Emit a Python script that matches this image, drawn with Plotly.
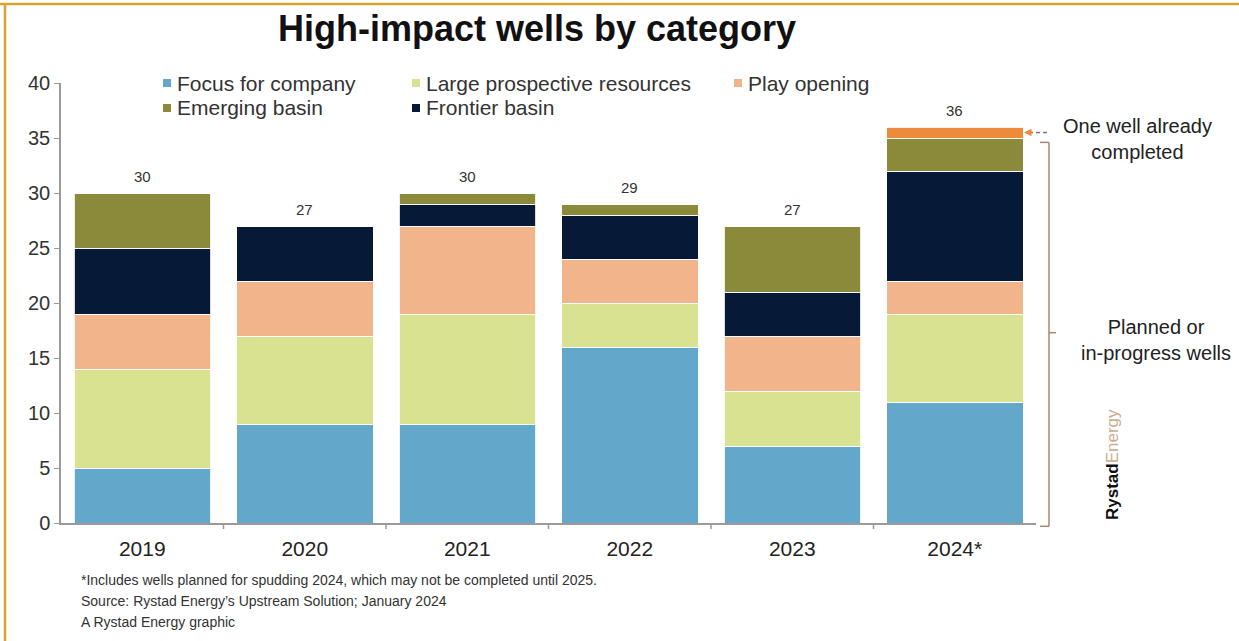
import plotly.graph_objects as go

# Stacked counts of high-impact wells per year and category
years = ["2019", "2020", "2021", "2022", "2023", "2024*"]
focus_for_company = [5, 9, 9, 16, 7, 11]
large_prospective = [9, 8, 10, 4, 5, 8]
play_opening = [5, 5, 8, 4, 5, 3]
frontier_basin = [6, 5, 2, 4, 4, 10]
emerging_basin = [5, 0, 1, 1, 6, 3]
already_completed = [0, 0, 0, 0, 0, 1]
totals = [30, 27, 30, 29, 27, 36]

series = [
    ("Focus for company", focus_for_company, "#63a7cb"),
    ("Large prospective resources", large_prospective, "#d9e290"),
    ("Play opening", play_opening, "#f1b48b"),
    ("Frontier basin", frontier_basin, "#061a38"),
    ("Emerging basin", emerging_basin, "#8b8a3b"),
]
legend_order = ["Focus for company", "Large prospective resources", "Play opening",
                "Emerging basin", "Frontier basin"]
colors = {name: c for name, _, c in series}

footnotes = [
    "*Includes wells planned for spudding 2024, which may not be completed until 2025.",
    "Source: Rystad Energy\u2019s Upstream Solution; January 2024",
    "A Rystad Energy graphic",
]

FONT = "Liberation Sans, Arial, sans-serif"
W, H = 1239, 641
L, R, T, B = 61, 203, 83, 118
PW, PH = W - L - R, H - T - B

xpos = list(range(len(years)))


def px_x(px):
    return (px - L) / PW


def px_y(py):
    return (H - B - py) / PH


fig = go.Figure()
for name, vals, col in series:
    fig.add_trace(go.Bar(
        x=xpos, y=vals, name=name, marker_color=col, width=0.84,
        marker_line=dict(color="rgba(255,255,255,0.85)", width=1),
        showlegend=False,
    ))
fig.add_trace(go.Bar(
    x=xpos, y=already_completed, name="Already completed", marker_color="#ee8a3c",
    width=0.84, marker_line=dict(color="rgba(255,255,255,0.85)", width=1),
    showlegend=False,
))

annotations = []
# totals above each bar
for xp, tot in zip(xpos, totals):
    annotations.append(dict(
        x=xp, y=tot, xref="x", yref="y", text=str(tot), showarrow=False,
        xanchor="center", yanchor="bottom", yshift=6,
        font=dict(family=FONT, size=15, color="#333"),
    ))

# hand-built legend, two rows
legend_cols = [163, 412, 734]
legend_rows = [83, 108]
shapes = []
for i, name in enumerate(legend_order):
    cx = legend_cols[i % 3]
    cy = legend_rows[i // 3]
    shapes.append(dict(
        type="rect", xref="paper", yref="paper",
        x0=px_x(cx), x1=px_x(cx + 8), y0=px_y(cy + 4), y1=px_y(cy - 4),
        fillcolor=colors[name], line=dict(width=0),
    ))
    annotations.append(dict(
        x=px_x(cx + 12), y=px_y(cy), xref="paper", yref="paper", text=name,
        showarrow=False, xanchor="left", yanchor="middle",
        font=dict(family=FONT, size=21, color="#333"),
    ))

# bracket for planned / in-progress wells
bcol = "#a9876c"
bx = px_x(1049)
shapes += [
    dict(type="line", xref="paper", yref="paper", x0=px_x(1040), x1=bx,
         y0=34.6 / 40, y1=34.6 / 40, line=dict(color=bcol, width=1.5)),
    dict(type="line", xref="paper", yref="paper", x0=bx, x1=bx,
         y0=34.6 / 40, y1=-0.3 / 40, line=dict(color=bcol, width=1.5)),
    dict(type="line", xref="paper", yref="paper", x0=px_x(1040), x1=bx,
         y0=-0.3 / 40, y1=-0.3 / 40, line=dict(color=bcol, width=1.5)),
    dict(type="line", xref="paper", yref="paper", x0=bx, x1=px_x(1056),
         y0=17.3 / 40, y1=17.3 / 40, line=dict(color=bcol, width=1.5)),
    # dashed pointer to the completed well
    dict(type="line", xref="paper", yref="paper", x0=px_x(1029), x1=px_x(1048),
         y0=35.5 / 40, y1=35.5 / 40,
         line=dict(color="#777", width=1.5, dash="4px,3px")),
    # frame lines
    dict(type="line", xref="paper", yref="paper", x0=px_x(0), x1=px_x(W),
         y0=px_y(4), y1=px_y(4), line=dict(color="#d4a72c", width=2.5)),
    dict(type="line", xref="paper", yref="paper", x0=px_x(5), x1=px_x(5),
         y0=px_y(4), y1=px_y(H), line=dict(color="#d4a72c", width=2.5)),
]
annotations.append(dict(
    x=px_x(1024), y=35.5 / 40, xref="paper", yref="paper", ax=8, ay=0,
    text="", showarrow=True, arrowhead=2, arrowsize=1, arrowwidth=1.5,
    arrowcolor="#ee8a3c",
))

annotations += [
    dict(x=px_x(1137), y=px_y(139), xref="paper", yref="paper",
         text="One well already<br>completed", showarrow=False, align="center",
         xanchor="center", yanchor="middle",
         font=dict(family=FONT, size=20, color="#222")),
    dict(x=px_x(1156), y=px_y(340), xref="paper", yref="paper",
         text="Planned or<br>in-progress wells", showarrow=False, align="center",
         xanchor="center", yanchor="middle",
         font=dict(family=FONT, size=20, color="#222")),
    dict(x=px_x(1112), y=px_y(465), xref="paper", yref="paper",
         text="<b>Rystad</b><span style='color:#c8ae8e'>Energy</span>",
         showarrow=False, textangle=-90, xanchor="center", yanchor="middle",
         font=dict(family=FONT, size=17, color="#111")),
]
for k, line in enumerate(footnotes):
    annotations.append(dict(
        x=px_x(79), y=px_y(580 + 21 * k), xref="paper", yref="paper", text=line,
        showarrow=False, xanchor="left", yanchor="middle",
        font=dict(family=FONT, size=14, color="#333"),
    ))

# tick marks between the bars along the baseline
for k in range(1, len(years)):
    shapes.append(dict(
        type="line", xref="paper", yref="paper",
        x0=k / len(years), x1=k / len(years), y0=0, y1=-6 / PH,
        line=dict(color="#9a9a9a", width=1.5),
    ))

fig.update_layout(
    width=W, height=H, barmode="stack",
    margin=dict(l=L, r=R, t=T, b=B),
    paper_bgcolor="white", plot_bgcolor="white",
    title=dict(text="<b>High-impact wells by category</b>", x=537 / W, y=1 - 28 / H,
               xanchor="center", yanchor="middle",
               font=dict(family=FONT, size=36, color="#111")),
    xaxis=dict(
        type="linear", range=[-0.5, len(years) - 0.5], autorange=False,
        tickmode="array", tickvals=xpos, ticktext=years,
        showline=True, linecolor="#9a9a9a", linewidth=1.5, ticks="",
        ticklabelstandoff=6,
        tickfont=dict(family=FONT, size=21, color="#222"), showgrid=False,
        zeroline=False,
    ),
    yaxis=dict(
        range=[0, 40], autorange=False, dtick=5, showline=True,
        linecolor="#9a9a9a", linewidth=1.5,
        ticks="outside", ticklen=5, tickcolor="#9a9a9a", showgrid=False,
        zeroline=False, tickfont=dict(family=FONT, size=20, color="#333"),
    ),
    shapes=shapes, annotations=annotations, showlegend=False,
)

fig.write_html("out.html")
